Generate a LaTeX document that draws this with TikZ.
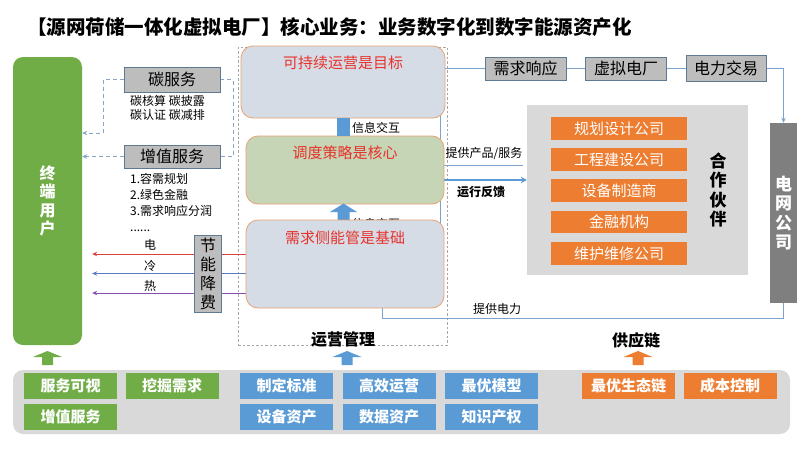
\documentclass[tikz,border=0pt]{standalone}
\usepackage{fontspec}
\setmainfont{Noto Sans CJK SC}
\usetikzlibrary{arrows.meta}
\pgfdeclarelayer{back}
\pgfdeclarelayer{bg}
\pgfsetlayers{back,bg,main}
\definecolor{cgreen}{HTML}{70AD47}
\definecolor{cblue}{HTML}{5B9BD5}
\definecolor{corange}{HTML}{ED7D31}
\definecolor{clgray}{HTML}{D9D9D9}
\definecolor{cbox}{HTML}{BDBDBD}
\definecolor{cboxb}{HTML}{5E7A92}
\definecolor{cpale}{HTML}{D6DCE5}
\definecolor{csage}{HTML}{C5D5B5}
\definecolor{cborder}{HTML}{E6A476}
\definecolor{cred}{HTML}{E8322C}
\definecolor{cdgray}{HTML}{7F7F7F}
\definecolor{cline}{HTML}{7BA3CB}
\definecolor{cdash}{HTML}{86A6C4}
\definecolor{lred}{HTML}{D9413B}
\definecolor{lblue}{HTML}{5B7BC0}
\definecolor{lpurple}{HTML}{8B4BA8}
\begin{document}
\begin{tikzpicture}[x=1pt,y=-1pt,
  graybox/.style={draw=cboxb, fill=cbox, line width=0.8pt, inner sep=0pt, font=\fontsize{16}{19}\selectfont},
  pill/.style={fill=#1, text=white, inner sep=0pt, minimum width=93pt, minimum height=26pt, font=\fontsize{15}{18}\selectfont\bfseries},
  orbox/.style={fill=corange, text=white, inner sep=0pt, minimum width=136pt, minimum height=22.5pt, font=\fontsize{15}{18}\selectfont},
  core/.style={draw=cborder, line width=0.8pt, rounded corners=12pt, inner sep=0pt},
  rt/.style={text=cred, inner sep=0pt, font=\fontsize{15}{18}\selectfont},
  small/.style={inner sep=0pt, font=\fontsize{12}{14.5}\selectfont},
  smallb/.style={inner sep=0pt, font=\fontsize{12}{14.5}\selectfont\bfseries},
  bigb/.style={inner sep=0pt, font=\fontsize{16}{18}\selectfont\bfseries},
  conn/.style={draw=cline, line width=0.8pt},
  dconn/.style={draw=cdash, line width=0.9pt, dash pattern=on 4pt off 3pt},
  tip/.style={-{Stealth[length=5pt,width=4.5pt]}},
  energy/.style={draw=#1, line width=1pt, -{Stealth[length=5pt,width=4.5pt]}, shorten >=10pt}
]
\useasboundingbox (0,0) rectangle (800,450);
\begin{pgfonlayer}{back}
\fill[white] (0,0) rectangle (800,450);
\end{pgfonlayer}

% title
\node[anchor=west, inner sep=0pt, font=\fontsize{19.5}{22}\selectfont\bfseries] (title) at (27,27)
  {【源网荷储一体化虚拟电厂】核心业务：业务数字化到数字能源资产化};

% end users
\node[fill=cgreen, rounded corners=10pt, minimum width=69pt, minimum height=288pt, inner sep=0pt,
  text=white, align=center, font=\fontsize{16}{18.5}\selectfont\bfseries] (user) at (47.5,201) {终\\端\\用\\户};

% services
\node[graybox, minimum width=96pt, minimum height=25pt] (tan) at (172,79.5) {碳服务};
\node[small, anchor=north west, align=left] (tanlist) at (130,95) {碳核算 碳披露\\碳认证 碳减排};
\node[graybox, minimum width=96pt, minimum height=23pt] (zz) at (172,156.5) {增值服务};
\node[inner sep=0pt, anchor=north west, align=left, font=\fontsize{12}{16}\selectfont] (zzlist) at (130,173)
  {1.容需规划\\2.绿色金融\\3.需求响应分润\\......};

% energy saving box
\node[graybox, minimum width=27pt, minimum height=77pt, align=center, font=\fontsize{16}{19}\selectfont] (jn) at (208,273.5) {节\\能\\降\\费};
\node[small] (le) at (150,245) {电};
\node[small] (lc) at (150,266) {冷};
\node[small] (lh) at (150,286) {热};

% operations area
\begin{pgfonlayer}{bg}
\node[draw=gray!70, dash pattern=on 2.5pt off 2pt, line width=0.6pt, minimum width=209pt, minimum height=298pt, inner sep=0pt] (ops) at (342.5,196) {};
\end{pgfonlayer}
\node[bigb] (opslbl) at (343,339) {运营管理};

\node[core, fill=cpale, minimum width=204pt, minimum height=72pt] (b1) at (343,82) {};
\node[core, fill=csage, minimum width=198pt, minimum height=68pt] (b2) at (345,170) {};
\fill[cblue] (337,118) rectangle (350,136);
\node[small, anchor=west] (info1) at (352,128) {信息交互};
\fill[cblue] (337.5,222) -- (337.5,212) -- (330,212) -- (343.5,203.5) -- (357,212) -- (349.5,212) -- (349.5,222) -- cycle;
\node[small, anchor=west] (info2) at (352,224) {信息交互};
\node[core, fill=cpale, minimum width=198pt, minimum height=88pt] (b3) at (345,264) {};
\node[rt] (t1) at (343,63) {可持续运营是目标};
\node[rt] (t2) at (345,153) {调度策略是核心};
\node[rt] (t3) at (345,238) {需求侧能管是基础};

% top chain
\node[graybox, minimum width=81pt, minimum height=23pt] (xq) at (525.5,68.5) {需求响应};
\node[graybox, minimum width=81pt, minimum height=23pt] (vpp) at (626,68.5) {虚拟电厂};
\node[graybox, minimum width=80pt, minimum height=26pt] (trade) at (726,68.5) {电力交易};

% grid company
\node[fill=cdgray, minimum width=27pt, minimum height=180pt, inner sep=0pt, text=white, align=center,
  font=\fontsize{17}{19.5}\selectfont\bfseries] (grid) at (783.5,213) {电\\网\\公\\司};

% partners
\node[fill=clgray, minimum width=221pt, minimum height=170pt, inner sep=0pt] (partner) at (637.5,190) {};
\node[orbox] (p1) at (619,128.5) {规划设计公司};
\node[orbox] (p2) at (619,159.5) {工程建设公司};
\node[orbox] (p3) at (619,190.5) {设备制造商};
\node[orbox] (p4) at (619,222) {金融机构};
\node[orbox] (p5) at (619,253.5) {维护维修公司};
\node[inner sep=0pt, align=center, font=\fontsize{17}{19.5}\selectfont\bfseries] (hz) at (718,190) {合\\作\\伙\\伴};

\node[small] (psl) at (484,154) {提供产品/服务};
\node[smallb] (fbl) at (481,192) {运行反馈};
\node[small] (pwl) at (497,309) {提供电力};
\node[bigb] (scl) at (636,340) {供应链};

\coordinate (pw) at (382,318);
\coordinate (ps) at (523,165);

\begin{pgfonlayer}{bg}
\draw[dconn, tip] (tan.west) -- (103,79.5) |- (user.east |- 0,133);
\draw[dconn, tip] (zz.west) -- (user.east |- zz.west);
\draw[dconn] (tan.east) -- (233,79.5) |- (zz.east);
\draw[energy=lred] (b3.west |- 0,254) -- (user.east |- 0,254);
\draw[energy=lblue] (b3.west |- 0,273.5) -- (user.east |- 0,273.5);
\draw[energy=lpurple] (b3.west |- 0,293) -- (user.east |- 0,293);
\draw[conn] (440,110) -- (440,300);
\draw[conn] (b1.east |- xq.west) -- (xq.west);
\draw[conn] (xq.east) -- (vpp.west);
\draw[conn] (vpp.east) -- (trade.west);
\draw[conn, tip] (trade.east) -| (grid.north);
\draw[conn] (grid.south) |- (pw) -- (pw |- b3.south);
\draw[conn] (b2.east |- ps) -- (ps);
\draw[cblue, line width=1.8pt, -{Stealth[length=6pt,width=6.5pt]}] (b2.east |- 0,180) -- (partner.west |- 0,180);
\end{pgfonlayer}

% bottom base
\node[fill=clgray, rounded corners=10pt, minimum width=777pt, minimum height=64pt, inner sep=0pt] (base) at (401.5,402) {};
\fill[cgreen, shift={(47.5,0)}] (-5.5,365) -- (-5.5,357) -- (-14.5,357) -- (0,351) -- (14.5,357) -- (5.5,357) -- (5.5,365) -- cycle;
\fill[cblue, shift={(347,0)}] (-5.5,365) -- (-5.5,357) -- (-14.5,357) -- (0,351) -- (14.5,357) -- (5.5,357) -- (5.5,365) -- cycle;
\fill[corange, shift={(638,0)}] (-5.5,365) -- (-5.5,357) -- (-14.5,357) -- (0,351) -- (14.5,357) -- (5.5,357) -- (5.5,365) -- cycle;

\node[pill=cgreen] (g1) at (70.5,386) {服务可视};
\node[pill=cgreen] (g2) at (172,386) {挖掘需求};
\node[pill=cgreen] (g3) at (70.5,417) {增值服务};
\node[pill=cblue] (u1) at (286.5,386) {制定标准};
\node[pill=cblue] (u2) at (389,386) {高效运营};
\node[pill=cblue] (u3) at (491.5,386) {最优模型};
\node[pill=cblue] (u4) at (286.5,417) {设备资产};
\node[pill=cblue] (u5) at (389,417) {数据资产};
\node[pill=cblue] (u6) at (491.5,417) {知识产权};
\node[pill=corange] (o1) at (628.5,386) {最优生态链};
\node[pill=corange] (o2) at (730,386) {成本控制};
\end{tikzpicture}
\end{document}
